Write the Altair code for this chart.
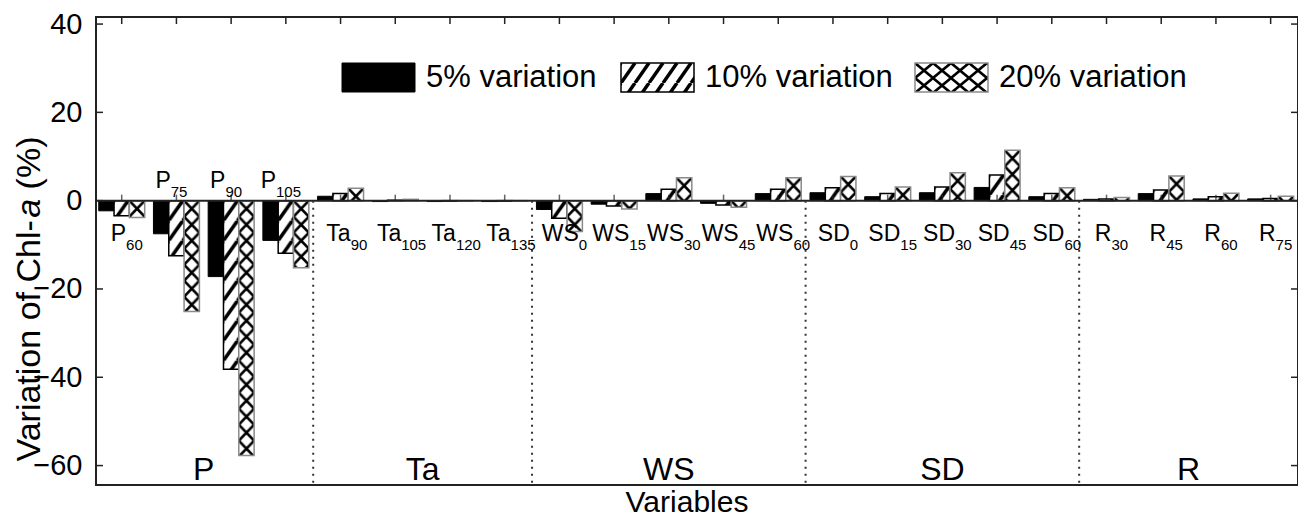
import base64
import altair as alt
import pandas as pd

# ---------------- data ----------------
groups = ["P", "Ta", "WS", "SD", "R"]
var_base = ["P"] * 4 + ["Ta"] * 4 + ["WS"] * 5 + ["SD"] * 5 + ["R"] * 4
var_sub = ["60", "75", "90", "105",
           "90", "105", "120", "135",
           "0", "15", "30", "45", "60",
           "0", "15", "30", "45", "60",
           "30", "45", "60", "75"]
series = ["5% variation", "10% variation", "20% variation"]
v5 = [-2.3, -7.5, -17.2, -9.0,
      1.0, -0.2, -0.2, -0.2,
      -2.0, -0.8, 1.6, -0.6, 1.6,
      1.8, 0.9, 1.8, 3.0, 0.9,
      0.3, 1.6, 0.4, 0.4]
v10 = [-3.4, -12.5, -38.2, -11.9,
       1.6, 0.1, -0.1, -0.1,
       -4.0, -1.2, 2.6, -1.0, 2.6,
       2.9, 1.6, 3.1, 5.8, 1.6,
       0.4, 2.4, 0.9, 0.5]
v20 = [-3.8, -25.1, -57.7, -15.2,
       2.8, 0.3, -0.1, -0.1,
       -7.0, -1.9, 5.2, -1.5, 5.2,
       5.5, 3.1, 6.3, 11.4, 2.9,
       0.7, 5.6, 1.7, 1.0]
y_ticks = [-60, -40, -20, 0, 20, 40]
x_title = "Variables"
y_title_parts = ["Variation of Chl-", "a", " (%)"]

# ---------------- layout / style ----------------
FONT = "Liberation Sans"
W, H = 1202, 468
PAD_TOP = 9
SVG_H = 511
YDOM = [-64.4, 41.6]
XDOM = [-0.47, 21.5]
STEP = W / (XDOM[1] - XDOM[0])
BW = 0.28
FRAME = "#222222"

EM = {"P": .667, "T": .611, "a": .556, "W": .944, "S": .667, "D": .722, "R": .722,
      "V": .667, "r": .333, "i": .222, "t": .278, "o": .556, "n": .556, " ": .278,
      "f": .278, "C": .722, "h": .556, "l": .222, "-": .333, "(": .333, "%": .889,
      ")": .333}


def text_w(s, size):
    return sum(EM.get(c, .556) for c in s) * size


def svg_url(svg):
    return "data:image/svg+xml;base64," + base64.b64encode(svg.encode()).decode()


diag_svg = ("<svg xmlns='http://www.w3.org/2000/svg' width='100%' height='100%'>"
            "<defs><pattern id='h' patternUnits='userSpaceOnUse' width='14' height='20'>"
            "<g stroke='black' stroke-width='3.5'>"
            "<line x1='0' y1='20' x2='14' y2='0'/><line x1='14' y1='20' x2='28' y2='0'/>"
            "<line x1='-14' y1='20' x2='0' y2='0'/></g></pattern></defs>"
            "<rect width='100%' height='100%' fill='white'/>"
            "<rect width='100%' height='100%' fill='url(#h)'/></svg>")
cross_svg = ("<svg xmlns='http://www.w3.org/2000/svg' width='100%' height='100%'>"
             "<defs><pattern id='c' patternUnits='userSpaceOnUse' width='100%' height='16'>"
             "<g stroke='black' stroke-width='2.6'>"
             "<line x1='0' y1='0' x2='100%' y2='16'/><line x1='100%' y1='0' x2='0' y2='16'/>"
             "</g></pattern></defs>"
             "<rect width='100%' height='100%' fill='white'/>"
             "<rect width='100%' height='100%' fill='url(#c)'/></svg>")
cross_leg_svg = cross_svg.replace("width='100%' height='16'", "width='18' height='15'") \
    .replace("x2='100%' y2='16'", "x2='18' y2='15'").replace("x1='100%' y1='0' x2='0' y2='16'",
                                                            "x1='18' y1='0' x2='0' y2='15'")
DIAG = svg_url(diag_svg)
CROSS = svg_url(cross_svg)
CROSS_LEG = svg_url(cross_leg_svg)

# ---------------- tables ----------------
rows = []
for i in range(len(var_base)):
    for k, vals in enumerate([v5, v10, v20]):
        rows.append(dict(idx=i, k=k, series=series[k], value=vals[i]))
bars = pd.DataFrame(rows)

cat_rows = []
for i, (b, s) in enumerate(zip(var_base, var_sub)):
    mn = min(v5[i], v10[i], v20[i])
    place = "above" if mn < -8 else "below"
    centre = -5 if place == "above" else 5
    junction = centre + (text_w(b, 23) - text_w(s, 15)) / 2
    cat_rows.append(dict(idx=i, base=b, sub=s, place=place, jx=i + junction / STEP,
                         group=b))
cats = pd.DataFrame(cat_rows)
gdf = cats.groupby("group", sort=False)["idx"].mean().reset_index(name="centre")
counts = [var_base.count(g) for g in groups]
bounds = pd.DataFrame({"b": [sum(counts[:j + 1]) - 0.5 for j in range(len(groups) - 1)]})
ydf = pd.DataFrame({"v": y_ticks})
one = pd.DataFrame({"d": [0]})

# ---------------- encodings ----------------
xs = alt.Scale(domain=XDOM, nice=False, zero=False)
ys = alt.Scale(domain=YDOM, nice=False, zero=False)
yaxis = alt.Axis(values=y_ticks, title=None, domain=False, ticks=False, grid=False,
                 labelFontSize=29, labelFont=FONT, labelColor="black", labelPadding=14)


def X(f):
    return alt.X(f"{f}:Q", scale=xs, axis=None)


def Yf(f):
    return alt.Y(f"{f}:Q", scale=ys, axis=yaxis)


def Yd(v):
    return alt.Y(datum=v, type="quantitative", scale=ys, axis=yaxis)


base = alt.Chart(bars).transform_calculate(
    x0=f"datum.idx + (datum.k - 1.5) * {BW}",
    x1=f"datum.idx + (datum.k - 0.5) * {BW}")
benc = dict(x=X("x0"), x2=alt.X2("x1:Q"), y=Yf("value"), y2=alt.datum(0))

layers = []
layers.append(base.transform_filter("datum.k == 0")
              .mark_bar(fill="black", stroke="black", strokeWidth=1).encode(**benc))
layers.append(base.transform_filter("datum.k == 1")
              .mark_image(aspect=False).encode(url=alt.value(DIAG), **benc))
layers.append(base.transform_filter("datum.k == 1")
              .mark_bar(fill="white", fillOpacity=0, stroke="black", strokeWidth=1.5).encode(**benc))
layers.append(base.transform_filter("datum.k == 2")
              .mark_image(aspect=False).encode(url=alt.value(CROSS), **benc))
layers.append(base.transform_filter("datum.k == 2")
              .mark_bar(fill="white", fillOpacity=0, stroke="#8a8a8a", strokeWidth=1.5).encode(**benc))

# zero line and ticks
layers.append(alt.Chart(one).mark_rule(color=FRAME, strokeWidth=2)
              .encode(y=Yd(0), x=alt.value(0), x2=alt.value(W)))
layers.append(alt.Chart(cats).mark_tick(orient="vertical", size=6, thickness=1.5,
                                         yOffset=-3, color=FRAME)
              .encode(x=X("idx"), y=Yd(0)))
layers.append(alt.Chart(cats).mark_rule(color=FRAME, strokeWidth=1.5)
              .encode(x=X("idx"), y=alt.value(0), y2=alt.value(7)))
layers.append(alt.Chart(ydf).mark_rule(color=FRAME, strokeWidth=1.5)
              .encode(y=Yf("v"), x=alt.value(0), x2=alt.value(7)))
layers.append(alt.Chart(ydf).mark_rule(color=FRAME, strokeWidth=1.5)
              .encode(y=Yf("v"), x=alt.value(W - 7), x2=alt.value(W)))

# group dividers
layers.append(alt.Chart(bounds).mark_rule(color="#333333", strokeWidth=2, strokeDash=[2, 5])
              .encode(x=X("b"), y=Yd(0), y2=alt.datum(YDOM[0])))

# group labels
layers.append(alt.Chart(gdf).mark_text(font=FONT, fontSize=32, align="center",
                                        baseline="middle", color="black")
              .encode(x=X("centre"), y=alt.value(453), text="group:N"))

# category labels (main + subscript)
for place, dyb, dys in [("below", 40, 49), ("above", -13, -4)]:
    sub = alt.Chart(cats).transform_filter(f"datum.place == '{place}'")
    layers.append(sub.mark_text(font=FONT, fontSize=23, align="right", baseline="alphabetic",
                                dy=dyb, color="black")
                  .encode(x=X("jx"), y=Yd(0), text="base:N"))
    layers.append(sub.mark_text(font=FONT, fontSize=15, align="left", baseline="alphabetic",
                                dy=dys, color="black")
                  .encode(x=X("jx"), y=Yd(0), text="sub:N"))

# legend
leg_x = [246, 525, 819]
for k, x0 in enumerate(leg_x):
    pos = dict(x=alt.value(x0), x2=alt.value(x0 + 73), y=alt.value(46), y2=alt.value(75))
    if k == 0:
        layers.append(alt.Chart(one).mark_rect(fill="black", stroke="black").encode(**pos))
    else:
        url = DIAG if k == 1 else CROSS_LEG
        stroke = "black" if k == 1 else "#8a8a8a"
        layers.append(alt.Chart(one).mark_image(aspect=False).encode(url=alt.value(url), **pos))
        layers.append(alt.Chart(one).mark_rect(fill="white", fillOpacity=0, stroke=stroke,
                                               strokeWidth=1.5).encode(**pos))
    layers.append(alt.Chart(one).mark_text(font=FONT, fontSize=31, align="left",
                                           baseline="middle", color="black")
                  .encode(x=alt.value(x0 + 84), y=alt.value(61), text=alt.value(series[k])))

# y title with italic "a" (leading blanks collapse in SVG, so advance past them)
TF = 34
widths = [text_w(p, TF) for p in y_title_parts]
start = 282 + sum(widths) / 2
acc = 0
for p, w in zip(y_title_parts, widths):
    lead = len(p) - len(p.lstrip())
    kw = dict(fontStyle="italic") if p == "a" else {}
    layers.append(alt.Chart(one).mark_text(font=FONT, fontSize=TF, angle=270, align="left",
                                           baseline="middle", color="black", **kw)
                  .encode(x=alt.value(-66), y=alt.value(start - acc - text_w(" " * lead, TF)),
                          text=alt.value(p.strip())))
    acc += w

# x title
layers.append(alt.Chart(one).mark_text(font=FONT, fontSize=30, align="center",
                                       baseline="alphabetic", color="black")
              .encode(x=alt.value(591), y=alt.value(495), text=alt.value(x_title)))

chart = alt.layer(*layers).properties(
    width=W, height=H,
    autosize=alt.AutoSizeParams(type="none"),
    padding={"left": 88, "top": PAD_TOP, "right": 0, "bottom": SVG_H - PAD_TOP - H},
    background="white",
).configure_view(stroke=FRAME, strokeWidth=2)

chart.save("out.html", embed_options={"renderer": "svg", "actions": False})
